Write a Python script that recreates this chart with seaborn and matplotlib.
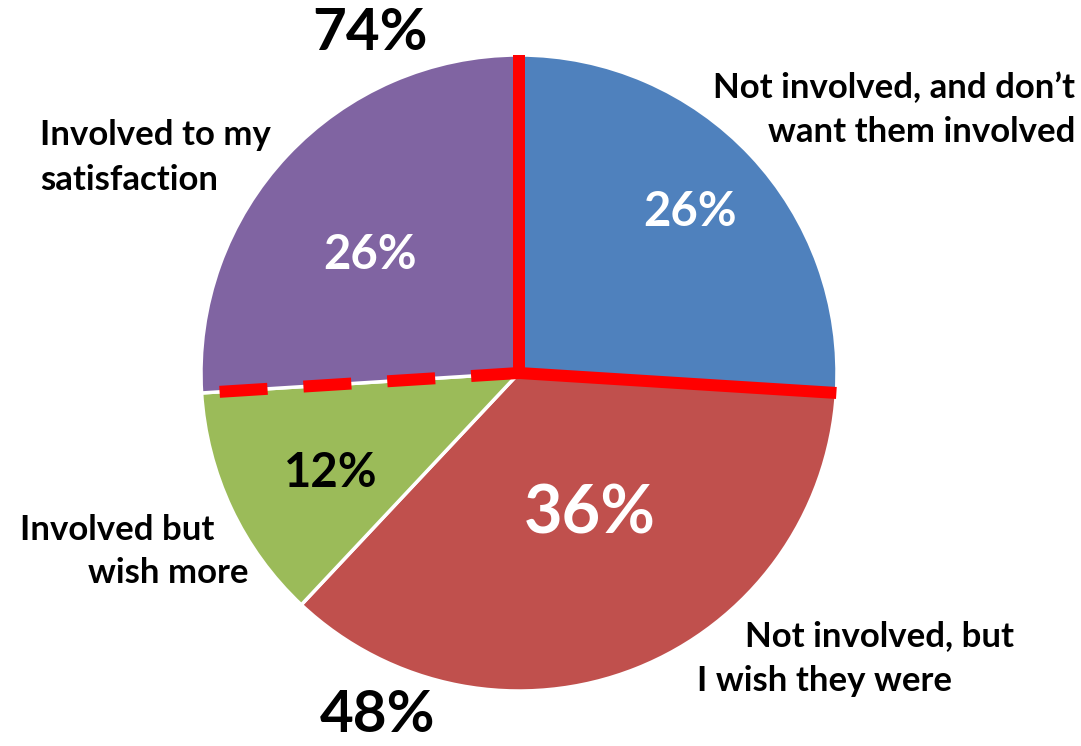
import numpy as np
import matplotlib
matplotlib.use("Agg")
import matplotlib.pyplot as plt
import seaborn as sns

categories = ["Not involved, and don\u2019t\nwant them involved",
              "Not involved, but\nI wish they were",
              "Involved but\nwish more",
              "Involved to my\nsatisfaction"]
values = [26, 36, 12, 26]
colors = ["#4F81BD", "#C0504D", "#9BBB59", "#8064A2"]
group_labels = ["74%", "48%"]

sns.set_theme(style="white")
plt.rcParams['font.family'] = ['Lato', 'DejaVu Sans']

W, H = 1081, 746
fig = plt.figure(figsize=(W / 100, H / 100), dpi=100)
ax = fig.add_axes([0, 0, 1, 1])

cx, cy, R = 519, H - 373, 318
wedges, _ = ax.pie(values, colors=colors, startangle=90, counterclock=False,
                   center=(cx, cy), radius=R, frame=True,
                   wedgeprops=dict(edgecolor="white", linewidth=2.5))
ax.set_xlim(0, W)
ax.set_ylim(0, H)
ax.set_aspect('equal')
ax.axis('off')

# red separator lines along wedge boundaries
lw_pt = 12 * 72 / 100
total = sum(values)
ang_top = 90
ang_b1 = 90 - 360 * values[0] / total
ang_b3 = 90 - 360 * sum(values[:3]) / total
for a in (ang_top, ang_b1):
    t = np.deg2rad(a)
    ax.plot([cx, cx + R * np.cos(t)], [cy, cy + R * np.sin(t)], color="#FF0000",
            lw=lw_pt, solid_capstyle='butt', zorder=5)
t = np.deg2rad(ang_b3)
ax.plot([cx, cx + (R - 10) * np.cos(t)], [cy, cy + (R - 10) * np.sin(t)], color="#FF0000",
        lw=lw_pt, dashes=(4, 3), dash_capstyle='butt', zorder=5)
ax.plot([cx - 6, cx + 6], [cy, cy], color="#FF0000", lw=lw_pt, solid_capstyle='butt', zorder=5)

def y(py):
    return H - py

big = dict(fontweight='bold', ha='center', va='center', zorder=6)
ax.text(690, y(212), f"{values[0]}%", color="white", fontsize=34, **big)
ax.text(590, y(515), f"{values[1]}%", color="white", fontsize=48, **big)
ax.text(331, y(473), f"{values[2]}%", color="black", fontsize=34, **big)
ax.text(370, y(255), f"{values[3]}%", color="white", fontsize=34, **big)

ax.text(370, y(34), group_labels[0], color="black", fontsize=42, **big)
ax.text(378, y(716), group_labels[1], color="black", fontsize=42, **big)

fs = 25
kw = dict(fontsize=fs, fontweight='bold', va='center', color='black')
l0 = categories[0].split("\n")
ax.text(1075, y(88), l0[0], ha='right', **kw)
ax.text(1075, y(132), l0[1], ha='right', **kw)
l1 = categories[1].split("\n")
ax.text(745, y(636), l1[0], ha='left', **kw)
ax.text(697, y(681), l1[1], ha='left', **kw)
l2 = categories[2].split("\n")
ax.text(20, y(530), l2[0], ha='left', **kw)
ax.text(88, y(573), l2[1], ha='left', **kw)
l3 = categories[3].split("\n")
ax.text(40, y(135), l3[0], ha='left', **kw)
ax.text(40, y(180), l3[1], ha='left', **kw)

fig.savefig("out.png", dpi=100, facecolor='white')
